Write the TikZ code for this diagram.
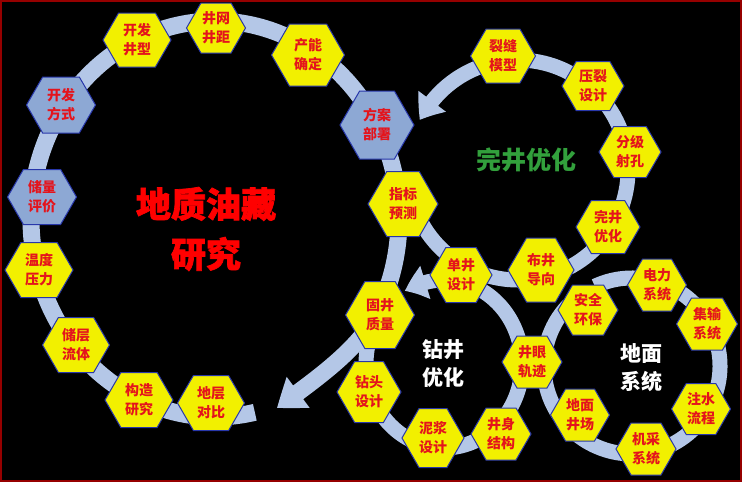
\documentclass[tikz,border=0pt]{standalone}
\usepackage{fontspec}
\setmainfont{Noto Sans CJK SC}
\newfontfamily\cjkheavy[FakeBold=2]{Noto Sans CJK SC}
\usetikzlibrary{arrows.meta,bending,shapes.symbols}
\begin{document}
\begin{tikzpicture}[x=1pt,y=-1pt,
  every node/.style={inner sep=0pt},
  ring/.style={line width=16pt,draw={rgb,255:red,180;green,199;blue,231},-{Triangle[length=0pt 1.5,width=0pt 2.2,bend]}},
  hexa/.style={signal,signal to=west and east,signal pointer angle=120,draw={rgb,255:red,40;green,55;blue,170},line width=1pt,fill={rgb,255:red,242;green,240;blue,0},align=center,text={rgb,255:red,228;green,20;blue,28},font=\bfseries\fontsize{14}{19}\selectfont},
  hexb/.style={hexa,fill={rgb,255:red,141;green,168;blue,212}},
  hub/.style={align=center,text=white,font=\bfseries\fontsize{21}{28}\selectfont}]
\useasboundingbox (0,0) rectangle (742,482);
\fill[black] (0,0) rectangle (742,482);
\draw[draw={rgb,255:red,150;green,0;blue,0},line width=2pt] (1,1) rectangle (741,481);
\coordinate (c1) at (215,219);
\coordinate (c2) at (518,170);
\coordinate (c3) at (444,364);
\coordinate (c4) at (632,366);
\draw[ring,line width=17pt] ([shift={(77.5:184 and 198)}]c1) arc[start angle=77.5,end angle=390,x radius=184,y radius=198] .. controls (355,353) and (309,384) .. (277,408);
\draw[ring,line width=15pt] ([shift={(168:110)}]c2) arc[start angle=168,end angle=-153,radius=110];
\draw[ring,line width=15pt] ([shift={(215:78 and 84)}]c3) arc[start angle=215,end angle=-120,x radius=78,y radius=84];
\draw[ring,line width=15pt,-] ([shift={(-115:88)}]c4) arc[start angle=-115,end angle=224,radius=88];
\node[hexa,minimum width=68pt,minimum height=54pt] (kfjx) at (137,40) {开发\\井型};
\node[hexa,minimum width=59pt,minimum height=50pt] (jwjj) at (216,28) {井网\\井距};
\node[hexa,minimum width=73pt,minimum height=62pt] (cnqd) at (308,55) {产能\\确定};
\node[hexb,minimum width=69pt,minimum height=56pt] (kffs) at (61,105) {开发\\方式};
\node[hexb,minimum width=69pt,minimum height=55pt] (clpj) at (42,197) {储量\\评价};
\node[hexb,minimum width=74pt,minimum height=68pt] (fabs) at (377,125) {方案\\部署};
\node[hexa,minimum width=68pt,minimum height=55pt] (wdyl) at (39,270) {温度\\压力};
\node[hexa,minimum width=67pt,minimum height=55pt] (ccl) at (76,345) {储层\\流体};
\node[hexa,minimum width=68pt,minimum height=55pt] (gzyj) at (139,400) {构造\\研究};
\node[hexa,minimum width=67pt,minimum height=55pt] (dcdb) at (211,403) {地层\\对比};
\node[hexa,minimum width=70pt,minimum height=65pt] (zbyc) at (403,204) {指标\\预测};
\node[hexa,minimum width=65pt,minimum height=54pt] (lfmx) at (503,56) {裂缝\\模型};
\node[hexa,minimum width=62pt,minimum height=49pt] (ylsj) at (593,86) {压裂\\设计};
\node[hexa,minimum width=62pt,minimum height=51pt] (fjsk) at (630,152) {分级\\射孔};
\node[hexa,minimum width=64pt,minimum height=53pt] (wjyh) at (608,227) {完井\\优化};
\node[hexa,minimum width=66pt,minimum height=64pt] (bjdx) at (541,270) {布井\\导向};
\node[hexa,minimum width=62pt,minimum height=55pt] (djsj) at (461,275) {单井\\设计};
\node[hexa,minimum width=69pt,minimum height=67pt] (gjzl) at (380,315) {固井\\质量};
\node[hexa,minimum width=64pt,minimum height=61pt] (ztsj) at (369,392) {钻头\\设计};
\node[hexa,minimum width=60pt,minimum height=59pt] (njsj) at (433,438) {泥浆\\设计};
\node[hexa,minimum width=60pt,minimum height=52pt] (jsjg) at (501,434) {井身\\结构};
\node[hexa,minimum width=60pt,minimum height=52pt] (jygj) at (532,362) {井眼\\轨迹};
\node[hexa,minimum width=60pt,minimum height=50pt] (aqhb) at (588,310) {安全\\环保};
\node[hexa,minimum width=59pt,minimum height=52pt] (dlxt) at (657,285) {电力\\系统};
\node[hexa,minimum width=61pt,minimum height=52pt] (jsxt) at (707,324) {集输\\系统};
\node[hexa,minimum width=59pt,minimum height=51pt] (zslc) at (701,409) {注水\\流程};
\node[hexa,minimum width=60pt,minimum height=52pt] (jcxt) at (646,449) {机采\\系统};
\node[hexa,minimum width=59pt,minimum height=52pt] (dmjc) at (580,415) {地面\\井场};
\node[align=center,text={rgb,255:red,255;green,0;blue,0},font=\cjkheavy\bfseries\fontsize{35}{50}\selectfont] (dzyc) at (206,229) {地质油藏\\研究};
\node[text={rgb,255:red,50;green,160;blue,60},font=\bfseries\fontsize{25}{30}\selectfont] (wjyhT) at (526,160) {完井优化};
\node[hub] (zjyh) at (443,364) {钻井\\优化};
\node[hub] (dmxt) at (641,368) {地面\\系统};
\end{tikzpicture}
\end{document}
